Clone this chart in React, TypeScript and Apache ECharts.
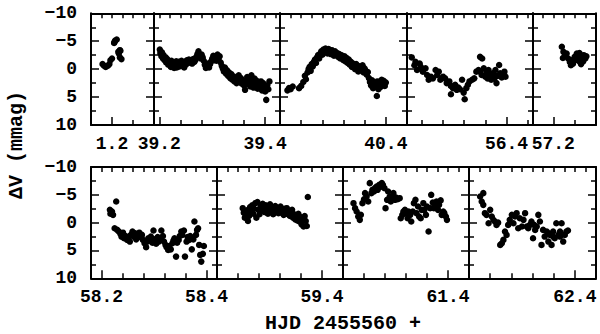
import React, { useEffect, useRef } from "react";
import * as echarts from "echarts";

// ---- data (HJD - 2455560, Delta V in mmag) ----
const p1 = [[1.182,-0.9],[1.185,-0.6],[1.188,-0.4],[1.192,-0.6],[1.195,-0.9],[1.197,-1.6],[1.200,-1.9],[1.204,-4.7],[1.205,-4.9],[1.206,-5.1],[1.209,-5.3],[1.212,-3.1],[1.213,-2.8],[1.215,-3.4],[1.216,-3.3],[1.215,-2.1],[1.218,-1.8]];
const p2 = [[39.201,-3.5],[39.202,-2.9],[39.204,-2.3],[39.205,-3.0],[39.207,-1.9],[39.208,-2.5],[39.210,-1.6],[39.212,-2.1],[39.213,-1.2],[39.215,-1.8],[39.217,-0.8],[39.218,-1.4],[39.220,-1.0],[39.222,-0.4],[39.223,-1.5],[39.225,-0.7],[39.227,-1.2],[39.228,-0.2],[39.230,-0.9],[39.232,-1.4],[39.233,-0.3],[39.235,-0.8],[39.237,-1.3],[39.238,-0.5],[39.240,-1.0],[39.242,-1.5],[39.243,-0.6],[39.245,-1.1],[39.247,-0.3],[39.249,-1.3],[39.250,-0.8],[39.252,-1.6],[39.254,-1.1],[39.256,-1.7],[39.258,-1.2],[39.260,-1.5],[39.262,-1.0],[39.264,-1.8],[39.266,-1.3],[39.268,-1.6],[39.270,-2.2],[39.272,-2.7],[39.274,-3.2],[39.276,-2.4],[39.278,-1.9],[39.280,-2.6],[39.282,-2.1],[39.284,-1.5],[39.286,-0.8],[39.288,-0.2],[39.290,-0.6],[39.292,-1.0],[39.294,-0.3],[39.296,-0.9],[39.298,-1.4],[39.300,-1.9],[39.302,-2.4],[39.304,-1.6],[39.306,-2.1],[39.308,-1.5],[39.310,-2.6],[39.312,-1.8],[39.314,-2.3],[39.316,-1.2],[39.318,-0.6],[39.320,-0.1],[39.322,0.4],[39.324,-0.3],[39.326,0.8],[39.328,0.2],[39.330,1.2],[39.332,0.6],[39.334,1.6],[39.336,0.9],[39.338,1.9],[39.340,1.3],[39.342,2.2],[39.344,1.5],[39.346,2.5],[39.348,1.8],[39.350,1.1],[39.352,2.3],[39.354,1.6],[39.356,2.6],[39.358,2.0],[39.360,2.9],[39.362,3.7],[39.364,2.2],[39.366,1.4],[39.368,2.7],[39.370,1.9],[39.372,3.1],[39.374,1.1],[39.376,2.4],[39.378,3.3],[39.380,1.7],[39.382,2.8],[39.384,2.1],[39.386,3.5],[39.388,2.6],[39.390,3.0],[39.392,2.2],[39.394,3.8],[39.396,2.5],[39.398,3.3],[39.400,4.0],[39.402,5.5],[39.404,2.9],[39.406,3.6],[39.408,2.2]];
const p3 = [[40.214,3.8],[40.217,3.4],[40.220,3.6],[40.224,3.1],[40.236,3.4],[40.240,3.0],[40.244,2.3],[40.247,1.2],[40.249,1.8],[40.252,0.6],[40.254,0.0],[40.256,-0.4],[40.258,0.3],[40.260,-0.9],[40.262,-0.5],[40.264,-1.3],[40.266,-1.7],[40.268,-1.1],[40.270,-2.1],[40.272,-2.5],[40.274,-1.9],[40.276,-2.8],[40.278,-3.2],[40.280,-2.6],[40.282,-3.5],[40.284,-3.0],[40.286,-3.7],[40.288,-3.3],[40.290,-2.8],[40.292,-3.6],[40.294,-3.1],[40.296,-2.7],[40.298,-3.4],[40.300,-3.0],[40.302,-2.4],[40.304,-3.2],[40.306,-2.6],[40.308,-2.9],[40.310,-2.2],[40.312,-2.7],[40.314,-1.9],[40.316,-2.5],[40.318,-2.1],[40.320,-1.6],[40.322,-2.3],[40.324,-1.4],[40.326,-2.0],[40.328,-1.1],[40.330,-1.7],[40.332,-0.8],[40.334,-1.3],[40.336,-0.4],[40.338,-1.0],[40.340,-0.6],[40.342,0.0],[40.344,-0.9],[40.346,-0.3],[40.348,0.4],[40.350,-0.5],[40.352,0.2],[40.354,-0.2],[40.356,-0.7],[40.358,0.6],[40.360,-0.1],[40.362,0.3],[40.364,1.0],[40.366,0.5],[40.368,1.6],[40.370,2.3],[40.372,2.9],[40.374,2.0],[40.376,3.4],[40.383,4.8],[40.380,2.6],[40.382,3.1],[40.384,2.2],[40.386,3.6],[40.388,2.5],[40.390,3.2],[40.392,1.9],[40.394,2.8],[40.396,2.1],[40.398,3.0],[40.400,2.4]];
const p4 = [[56.221,-2.1],[56.228,-1.3],[56.226,-0.7],[56.231,0.15],[56.236,-1.0],[56.238,-0.4],[56.242,0.45],[56.247,-0.15],[56.250,1.05],[56.253,1.9],[56.257,1.35],[56.261,1.65],[56.266,0.15],[56.269,1.05],[56.272,0.45],[56.275,1.9],[56.280,1.35],[56.284,1.65],[56.287,2.5],[56.292,2.2],[56.295,3.0],[56.299,3.4],[56.295,4.5],[56.303,2.8],[56.306,3.7],[56.309,3.3],[56.312,3.6],[56.316,1.9],[56.319,4.2],[56.321,5.4],[56.324,3.4],[56.327,2.8],[56.330,2.2],[56.335,1.9],[56.339,1.65],[56.343,0.45],[56.347,0.15],[56.350,-2.2],[56.354,-1.9],[56.350,0.45],[56.353,1.05],[56.357,-0.15],[56.360,1.35],[56.362,0.45],[56.364,1.65],[56.366,0.15],[56.369,1.05],[56.371,1.9],[56.374,0.75],[56.377,1.65],[56.379,0.15],[56.381,2.5],[56.383,1.2],[56.386,-0.75],[56.388,0.75],[56.391,1.5],[56.395,1.05],[56.398,1.35],[56.396,0.45]];
const p5 = [[57.216,-4.0],[57.219,-3.1],[57.222,-2.5],[57.225,-2.8],[57.228,-1.9],[57.231,-1.3],[57.234,-1.6],[57.237,-1.0],[57.240,-2.2],[57.244,-2.8],[57.247,-1.9],[57.250,-1.3],[57.247,-1.6],[57.253,-2.2],[57.257,-2.5],[57.260,-1.9],[57.218,-2.0],[57.233,-0.7],[57.241,-1.6],[57.252,-0.9],[57.256,-1.4],[57.249,-2.9],[57.262,-2.3]];
const p6 = [[58.216,-2.3],[58.217,-1.6],[58.220,-2.0],[58.222,-1.4],[58.228,-3.8],[58.225,1.0],[58.230,1.3],[58.233,1.6],[58.236,2.0],[58.238,2.5],[58.241,1.8],[58.243,2.8],[58.246,2.4],[58.249,3.1],[58.251,2.6],[58.254,3.4],[58.256,2.2],[58.259,1.6],[58.261,2.5],[58.264,1.9],[58.266,3.0],[58.269,2.4],[58.272,1.8],[58.274,2.6],[58.277,2.2],[58.279,3.1],[58.282,3.7],[58.285,4.4],[58.287,3.4],[58.289,2.8],[58.291,3.2],[58.294,2.5],[58.297,3.6],[58.299,1.4],[58.301,3.0],[58.304,3.8],[58.307,2.6],[58.309,3.4],[58.312,2.9],[58.314,1.4],[58.317,2.4],[58.319,3.4],[58.322,4.0],[58.324,4.4],[58.327,4.9],[58.329,4.2],[58.332,4.8],[58.335,3.7],[58.337,3.2],[58.339,2.8],[58.342,6.1],[58.344,3.6],[58.347,3.1],[58.349,2.4],[58.352,1.6],[58.354,2.2],[58.357,1.4],[58.359,6.1],[58.362,3.4],[58.364,2.6],[58.367,3.1],[58.369,2.4],[58.372,4.8],[58.375,3.0],[58.377,-0.2],[58.380,2.2],[58.382,1.3],[58.384,1.0],[58.386,4.0],[58.388,5.8],[58.390,7.0],[58.393,5.6],[58.395,4.2]];
const p7 = [[59.249,-2.6],[59.251,-1.8],[59.253,-0.9],[59.255,-1.4],[59.257,-2.2],[59.259,-0.3],[59.261,-1.2],[59.263,-2.8],[59.265,-2.0],[59.267,-3.1],[59.269,-1.6],[59.271,-2.5],[59.273,-3.5],[59.275,-0.9],[59.277,-3.7],[59.279,-2.3],[59.281,-1.5],[59.283,-3.0],[59.285,-2.2],[59.287,-3.4],[59.289,-2.6],[59.291,-1.9],[59.293,-3.1],[59.295,-2.4],[59.297,-1.6],[59.299,-2.8],[59.301,-3.3],[59.303,-2.1],[59.305,-2.7],[59.307,-1.5],[59.309,-2.4],[59.311,-3.0],[59.313,-2.0],[59.315,-2.6],[59.317,-1.7],[59.319,-2.3],[59.321,-2.9],[59.323,-1.8],[59.325,-2.2],[59.327,-1.4],[59.329,-2.5],[59.331,-1.9],[59.333,-2.6],[59.335,-1.5],[59.337,-2.1],[59.339,-1.2],[59.341,-1.8],[59.343,-2.3],[59.345,-0.9],[59.347,-1.5],[59.349,-0.6],[59.351,-1.1],[59.353,-0.4],[59.355,-1.6],[59.357,-0.2],[59.359,-1.0],[59.361,0.3],[59.363,-0.6],[59.365,0.7],[59.367,-1.2],[59.369,-0.3],[59.371,0.6],[59.373,-4.6]];
const p8 = [[61.220,-3.5],[61.223,-2.6],[61.226,-2.0],[61.229,-1.1],[61.232,-0.5],[61.234,-1.4],[61.237,-3.5],[61.240,-4.2],[61.242,-5.3],[61.245,-4.7],[61.248,-3.8],[61.251,-7.1],[61.254,-5.3],[61.256,-5.9],[61.259,-5.6],[61.261,-6.2],[61.264,-6.5],[61.266,-5.9],[61.269,-6.8],[61.271,-6.4],[61.274,-7.1],[61.276,-6.8],[61.279,-6.2],[61.281,-2.6],[61.284,-4.1],[61.286,-5.6],[61.289,-4.7],[61.291,-3.8],[61.294,-4.4],[61.296,-5.3],[61.299,-4.1],[61.301,-4.5],[61.304,-4.2],[61.308,-4.4],[61.310,-0.8],[61.313,-1.4],[61.315,-2.0],[61.318,-2.3],[61.320,-1.7],[61.323,-0.8],[61.325,-2.0],[61.328,-1.4],[61.330,-0.2],[61.333,-2.0],[61.335,-3.5],[61.338,-4.1],[61.340,-1.7],[61.343,-2.9],[61.345,-1.1],[61.348,-0.8],[61.350,-2.3],[61.353,-3.5],[61.355,-2.3],[61.358,-1.4],[61.360,-2.9],[61.363,1.6],[61.366,-2.6],[61.368,-5.0],[61.371,-3.6],[61.373,-2.6],[61.376,-3.2],[61.378,-3.8],[61.381,-2.3],[61.383,-3.2],[61.386,-4.0],[61.388,-1.4],[61.391,-2.0],[61.393,-1.7],[61.396,-1.1],[61.398,-0.5]];
const p9 = [[62.221,-4.7],[62.224,-3.8],[62.227,-5.3],[62.227,-3.2],[62.230,-1.7],[62.233,-1.4],[62.237,0.1],[62.240,-2.3],[62.243,-1.1],[62.246,-0.5],[62.249,-0.2],[62.252,0.4],[62.255,0.0],[62.259,4.0],[62.262,3.7],[62.265,3.1],[62.268,1.6],[62.271,2.2],[62.274,0.4],[62.277,-0.5],[62.281,-1.4],[62.284,0.1],[62.287,-1.1],[62.290,-1.7],[62.293,1.0],[62.296,-0.8],[62.300,0.7],[62.303,-0.5],[62.306,-1.7],[62.309,0.7],[62.312,1.0],[62.315,0.4],[62.318,-0.2],[62.321,2.8],[62.325,1.3],[62.328,0.7],[62.331,-1.4],[62.334,-0.2],[62.337,4.0],[62.340,1.3],[62.343,2.5],[62.347,1.6],[62.350,3.4],[62.353,2.2],[62.356,4.0],[62.359,1.6],[62.362,2.8],[62.365,0.1],[62.369,2.2],[62.372,1.6],[62.375,0.1],[62.378,3.4],[62.381,2.2],[62.384,1.6],[62.387,1.4],[62.323,0.4],[62.350,1.9],[62.359,2.5],[62.372,2.5]];

const panelData = [p1, p2, p3, p4, p5, p6, p7, p8, p9];
const panelMin = [1.16, 39.19, 40.2, 56.212, 57.162, 58.18, 59.2, 61.2, 62.2];
const panelMax = [1.28, 39.428, 40.44, 56.45, 57.28, 58.42, 59.44, 61.44, 62.44];
const panelLabels = [[1.2], [39.2, 39.4], [40.4], [56.4], [57.2], [58.2, 58.4], [59.4], [61.4], [62.4]];
const yMin = -10;
const yMax = 10;
const yStep = 5;

const xTitle = "HJD 2455560 +";
const yTitle = "ΔV (mmag)";

// ---- layout (pixels) ----
const boxes = [
  [91, 13.3, 63, 111.7], [154, 13.3, 126, 111.7], [280, 13.3, 127, 111.7], [407, 13.3, 126, 111.7], [533, 13.3, 63, 111.7],
  [91, 167, 126, 111.3], [217, 167, 126, 111.3], [343, 167, 126, 111.3], [469, 167, 127, 111.3],
];
const labelLeft = [true, false, false, false, false, true, false, false, false];

const FONT = "Liberation Mono";

function stepTicks(min: number, max: number, step: number, exclude: number[]) {
  const out: number[] = [];
  const k0 = Math.ceil(min / step - 1e-6);
  const k1 = Math.floor(max / step + 1e-6);
  for (let k = k0; k <= k1; k++) {
    const v = Math.round(k * step * 1000) / 1000;
    if (v - min < 1e-6 || max - v < 1e-6) continue;
    if (exclude.some((e) => Math.abs(e - v) < 1e-6)) continue;
    out.push(v);
  }
  return out;
}

export default function App() {
  const ref = useRef<HTMLDivElement>(null);
  useEffect(() => {
    if (!ref.current) return;
    const chart = echarts.init(ref.current, null, { renderer: "svg" });
    const grids: any[] = [];
    const xAxes: any[] = [];
    const yAxes: any[] = [];
    const series: any[] = [];
    const line = { show: true, onZero: false, lineStyle: { color: "#000", width: 2 } };
    const tickStyle = { color: "#000", width: 1.5 };
    boxes.forEach((b, i) => {
      grids.push({ left: b[0], top: b[1], width: b[2], height: b[3], show: false, outerBoundsMode: "none", containLabel: false });
      const min = panelMin[i];
      const max = panelMax[i];
      const labels = panelLabels[i];
      const common = { type: "value", gridIndex: i, min, max, splitLine: { show: false }, axisPointer: { show: false } };
      xAxes.push({
        ...common,
        position: "bottom",
        axisLine: line,
        axisTick: { show: true, inside: true, length: 8, lineStyle: tickStyle, customValues: labels },
        axisLabel: {
          show: true, customValues: labels, margin: 10, color: "#000", fontFamily: FONT, fontSize: 18, fontWeight: "bold",
          formatter: (v: number) => v.toFixed(1),
        },
      });
      xAxes.push({
        ...common,
        position: "bottom",
        axisLine: { show: false, onZero: false },
        axisTick: { show: true, inside: true, length: 5, lineStyle: tickStyle, customValues: stepTicks(min, max, 0.04, labels) },
        axisLabel: { show: false },
      });
      xAxes.push({
        ...common,
        position: "top",
        axisLine: line,
        axisTick: { show: true, inside: true, length: 5, lineStyle: tickStyle, customValues: stepTicks(min, max, 0.02, []) },
        axisLabel: { show: false },
      });
      const ycommon = {
        type: "value", gridIndex: i, min: yMin, max: yMax, interval: yStep, inverse: true,
        splitLine: { show: false }, axisLine: line,
        axisTick: { show: true, inside: true, length: 8, lineStyle: tickStyle },
        minorTick: { show: true, splitNumber: 2, length: 5, lineStyle: tickStyle },
      };
      yAxes.push({
        ...ycommon,
        position: "left",
        axisLabel: {
          show: labelLeft[i], margin: 14, color: "#000", fontFamily: FONT, fontSize: 18, fontWeight: "bold",
          formatter: (v: number) => (v < 0 ? "\u2212" + Math.abs(v) : String(v)),
        },
      });
      yAxes.push({ ...ycommon, position: "right", axisLabel: { show: false } });
      series.push({
        type: "scatter",
        xAxisIndex: i * 3,
        yAxisIndex: i * 2,
        data: panelData[i],
        symbol: "circle",
        symbolSize: 6.5,
        itemStyle: { color: "#000", opacity: 1 },
        silent: true,
      });
    });
    chart.setOption({
      animation: false,
      backgroundColor: "#fff",
      grid: grids,
      xAxis: xAxes,
      yAxis: yAxes,
      series,
      graphic: [
        {
          type: "text", x: 343, y: 323,
          style: { text: xTitle, fontFamily: FONT, fontSize: 20, fontWeight: "bold", fill: "#000", textAlign: "center", textVerticalAlign: "middle" },
        },
        {
          type: "text", x: 16, y: 145, rotation: Math.PI / 2,
          style: { text: yTitle, fontFamily: FONT, fontSize: 20, fontWeight: "bold", fill: "#000", textAlign: "center", textVerticalAlign: "middle" },
        },
      ],
    });
    return () => chart.dispose();
  }, []);
  return <div ref={ref} style={{ position: "absolute", left: 0, top: 0, width: 600, height: 334 }} />;
}
